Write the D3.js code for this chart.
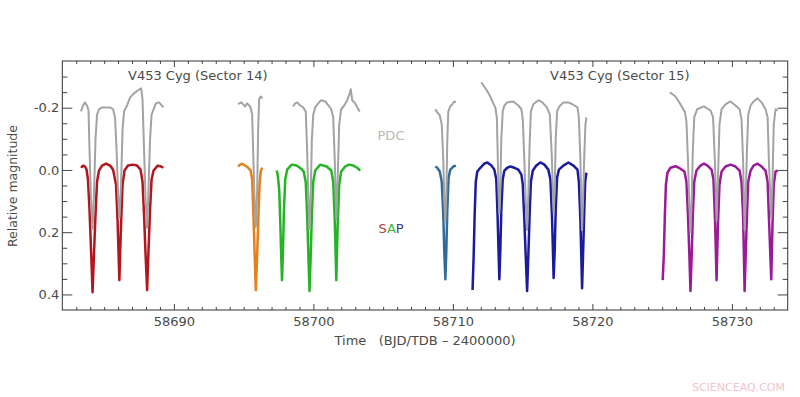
<!DOCTYPE html>
<html>
<head>
<meta charset="utf-8">
<script src="https://cdn.jsdelivr.net/npm/d3@7"></script>
<style>
  html, body { margin: 0; padding: 0; background: #fff; }
  svg { display: block; }
  text { font-family: "DejaVu Sans", sans-serif; }
</style>
</head>
<body>
<div id="chart"></div>
<script>
// Size of the figure
const width = 800;
const height = 397;

// Axis tick values
const xMajorTicks = [58690, 58700, 58710, 58720, 58730];
const yMajorTicks = [-0.2, 0.0, 0.2, 0.4];

// SAP light curves, [time, relative magnitude], one array per segment
const sapRed = [[58683.34,-0.007],[58683.49,-0.014],[58683.63,-0.011],[58683.74,-0.001],[58683.84,0.031],[58683.95,0.128],[58684.06,0.257],[58684.17,0.393],[58684.27,0.273],[58684.38,0.144],[58684.49,0.038],[58684.63,0.002],[58684.85,-0.014],[58685.14,-0.020],[58685.42,-0.014],[58685.64,-0.001],[58685.85,0.047],[58685.96,0.160],[58686.09,0.354],[58686.21,0.176],[58686.32,0.047],[58686.46,0.002],[58686.71,-0.014],[58687.05,-0.017],[58687.36,-0.014],[58687.61,-0.001],[58687.75,0.038],[58687.86,0.144],[58687.97,0.273],[58688.08,0.386],[58688.18,0.257],[58688.29,0.128],[58688.40,0.031],[58688.54,0.002],[58688.84,-0.014],[58689.08,-0.011],[58689.25,-0.007]];
const sapOrange = [[58694.60,-0.011],[58694.75,-0.017],[58694.89,-0.020],[58695.11,-0.014],[58695.32,-0.007],[58695.50,0.002],[58695.61,0.031],[58695.70,0.144],[58695.79,0.273],[58695.87,0.386],[58695.97,0.273],[58696.06,0.144],[58696.15,0.038],[58696.23,0.002],[58696.35,-0.007]];
const sapGreen = [[58697.37,0.002],[58697.44,0.015],[58697.55,0.064],[58697.62,0.160],[58697.69,0.273],[58697.75,0.354],[58697.82,0.257],[58697.89,0.128],[58697.98,0.031],[58698.12,-0.001],[58698.44,-0.017],[58698.80,-0.014],[58699.12,-0.004],[58699.30,0.005],[58699.45,0.038],[58699.55,0.144],[58699.64,0.273],[58699.72,0.389],[58699.81,0.273],[58699.89,0.144],[58699.99,0.038],[58700.13,0.002],[58700.49,-0.017],[58700.95,-0.011],[58701.28,0.002],[58701.42,0.038],[58701.53,0.160],[58701.64,0.354],[58701.74,0.176],[58701.85,0.047],[58701.99,0.005],[58702.28,-0.011],[58702.53,-0.017],[58702.86,-0.014],[58703.14,-0.007],[58703.36,0.002]];
const sapTeal = [[58708.74,-0.011],[58708.88,-0.007],[58709.06,0.005],[58709.20,0.038],[58709.31,0.144],[58709.38,0.257],[58709.46,0.351],[58709.53,0.257],[58709.60,0.128],[58709.69,0.025],[58709.81,-0.001],[58710.03,-0.011],[58710.22,-0.014]];
const sapBlue = [[58711.41,0.386],[58711.49,0.273],[58711.56,0.144],[58711.64,0.038],[58711.75,0.005],[58711.97,-0.007],[58712.25,-0.020],[58712.47,-0.024],[58712.76,-0.014],[58712.97,-0.001],[58713.11,0.031],[58713.20,0.144],[58713.27,0.257],[58713.33,0.351],[58713.40,0.257],[58713.47,0.128],[58713.57,0.031],[58713.69,0.002],[58713.90,-0.007],[58714.12,-0.011],[58714.41,-0.007],[58714.69,-0.001],[58714.91,0.015],[58715.01,0.047],[58715.12,0.160],[58715.23,0.289],[58715.32,0.389],[58715.41,0.273],[58715.50,0.144],[58715.59,0.038],[58715.73,0.002],[58715.98,-0.014],[58716.27,-0.024],[58716.56,-0.017],[58716.84,-0.001],[58716.99,0.031],[58717.10,0.144],[58717.17,0.257],[58717.22,0.347],[58717.30,0.257],[58717.37,0.128],[58717.47,0.025],[58717.60,-0.001],[58717.92,-0.014],[58718.28,-0.024],[58718.64,-0.014],[58718.93,-0.001],[58719.03,0.038],[58719.14,0.160],[58719.21,0.289],[58719.26,0.380],[58719.33,0.273],[58719.41,0.144],[58719.48,0.038],[58719.57,0.009]];
const sapPurple = [[58725.04,0.354],[58725.12,0.273],[58725.19,0.151],[58725.27,0.047],[58725.38,0.009],[58725.60,-0.007],[58725.96,-0.012],[58726.31,-0.004],[58726.60,0.005],[58726.74,0.038],[58726.85,0.144],[58726.95,0.273],[58727.03,0.389],[58727.12,0.273],[58727.20,0.144],[58727.30,0.038],[58727.46,0.002],[58727.75,-0.014],[58727.99,-0.020],[58728.25,-0.014],[58728.54,-0.001],[58728.68,0.031],[58728.79,0.160],[58728.90,0.354],[58729.00,0.176],[58729.11,0.047],[58729.26,0.005],[58729.54,-0.011],[58729.90,-0.017],[58730.26,-0.011],[58730.55,0.002],[58730.69,0.038],[58730.80,0.144],[58730.86,0.273],[58730.91,0.389],[58730.99,0.273],[58731.08,0.144],[58731.17,0.038],[58731.34,0.002],[58731.55,-0.014],[58731.84,-0.020],[58732.13,-0.011],[58732.41,0.002],[58732.56,0.038],[58732.66,0.160],[58732.82,0.351],[58732.91,0.176],[58733.00,0.047],[58733.13,0.005],[58733.29,0.002]];

// PDC light curves (offset above the SAP ones), [time, relative magnitude]
const pdcRed = [[58683.34,-0.188],[58683.49,-0.207],[58683.63,-0.217],[58683.77,-0.207],[58683.88,-0.191],[58683.95,-0.065],[58684.06,0.096],[58684.17,0.189],[58684.27,0.080],[58684.38,-0.098],[58684.49,-0.178],[58684.63,-0.195],[58684.85,-0.201],[58685.14,-0.201],[58685.42,-0.201],[58685.64,-0.195],[58685.78,-0.169],[58685.89,-0.065],[58686.00,0.080],[58686.09,0.154],[58686.21,0.047],[58686.32,-0.130],[58686.43,-0.188],[58686.64,-0.207],[58686.86,-0.233],[58687.14,-0.246],[58687.43,-0.256],[58687.65,-0.262],[58687.75,-0.227],[58687.86,-0.065],[58687.97,0.096],[58688.08,0.186],[58688.18,0.064],[58688.29,-0.098],[58688.40,-0.178],[58688.54,-0.195],[58688.72,-0.214],[58688.94,-0.217],[58689.25,-0.201]];
const pdcOrange = [[58694.60,-0.211],[58694.82,-0.217],[58695.11,-0.204],[58695.25,-0.214],[58695.47,-0.204],[58695.61,-0.178],[58695.70,-0.033],[58695.79,0.112],[58695.87,0.183],[58695.97,0.064],[58696.04,-0.130],[58696.11,-0.227],[58696.22,-0.236],[58696.35,-0.230]];
const pdcGreen = [[58698.55,-0.204],[58698.69,-0.214],[58698.84,-0.217],[58699.05,-0.207],[58699.27,-0.201],[58699.45,-0.188],[58699.55,-0.065],[58699.64,0.096],[58699.72,0.190],[58699.81,0.080],[58699.89,-0.098],[58699.99,-0.178],[58700.13,-0.201],[58700.34,-0.214],[58700.56,-0.224],[58700.85,-0.220],[58701.13,-0.204],[58701.28,-0.195],[58701.42,-0.169],[58701.53,-0.033],[58701.64,0.158],[58701.74,0.031],[58701.85,-0.146],[58701.99,-0.195],[58702.21,-0.207],[58702.42,-0.224],[58702.60,-0.246],[58702.68,-0.259],[58702.78,-0.224],[58703.00,-0.214],[58703.14,-0.201],[58703.32,-0.188]];
const pdcTeal = [[58708.74,-0.195],[58708.88,-0.185],[58709.06,-0.175],[58709.20,-0.146],[58709.31,-0.033],[58709.38,0.096],[58709.46,0.167],[58709.53,0.080],[58709.60,-0.098],[58709.67,-0.188],[58709.81,-0.204],[58709.96,-0.211],[58710.10,-0.220],[58710.22,-0.217]];
const pdcBlue = [[58712.04,-0.282],[58712.22,-0.269],[58712.43,-0.256],[58712.68,-0.236],[58712.86,-0.217],[58713.04,-0.201],[58713.15,-0.169],[58713.22,-0.033],[58713.28,0.080],[58713.33,0.141],[58713.40,0.064],[58713.47,-0.098],[58713.57,-0.188],[58713.69,-0.207],[58713.90,-0.217],[58714.33,-0.220],[58714.69,-0.207],[58714.91,-0.195],[58715.01,-0.162],[58715.12,-0.033],[58715.23,0.112],[58715.32,0.193],[58715.41,0.080],[58715.50,-0.082],[58715.59,-0.188],[58715.77,-0.211],[58716.13,-0.224],[58716.41,-0.217],[58716.74,-0.201],[58716.95,-0.178],[58717.10,-0.033],[58717.17,0.080],[58717.22,0.138],[58717.30,0.064],[58717.37,-0.098],[58717.47,-0.188],[58717.63,-0.204],[58717.92,-0.217],[58718.28,-0.217],[58718.57,-0.211],[58718.93,-0.201],[58719.03,-0.169],[58719.14,-0.033],[58719.21,0.112],[58719.26,0.193],[58719.33,0.096],[58719.41,-0.033],[58719.50,-0.146],[58719.57,-0.169]];
const pdcPurple = [[58725.55,-0.249],[58725.74,-0.243],[58725.96,-0.236],[58726.19,-0.220],[58726.44,-0.201],[58726.64,-0.185],[58726.74,-0.156],[58726.85,-0.033],[58726.95,0.112],[58727.03,0.199],[58727.12,0.096],[58727.20,-0.065],[58727.30,-0.169],[58727.51,-0.195],[58727.99,-0.204],[58728.47,-0.191],[58728.65,-0.169],[58728.79,-0.017],[58728.90,0.164],[58729.00,0.031],[58729.11,-0.146],[58729.26,-0.195],[58729.54,-0.211],[58729.90,-0.220],[58730.26,-0.207],[58730.55,-0.195],[58730.69,-0.162],[58730.80,-0.033],[58730.86,0.096],[58730.91,0.193],[58730.99,0.096],[58731.08,-0.065],[58731.17,-0.178],[58731.34,-0.207],[58731.55,-0.220],[58731.84,-0.230],[58732.13,-0.217],[58732.41,-0.195],[58732.56,-0.169],[58732.66,-0.017],[58732.82,0.154],[58732.91,0.031],[58733.00,-0.146],[58733.13,-0.195],[58733.29,-0.191]];

function main() {
    const margin = {left: 62.3, right: 12.3, top: 61, bottom: 87};

    const x = d3.scaleLinear()
        .domain([58682, 58734])
        .range([margin.left, width - margin.right]);
    const y = d3.scaleLinear()
        .domain([-0.35, 0.45])
        .range([margin.top, height - margin.bottom]);

    const svg = d3.create("svg")
        .attr("width", width)
        .attr("height", height)
        .style("background", "#fff");

    // minor ticks: every day on x, every 0.05 on y
    const xMinorTicks = d3.range(58683, 58734).filter(d => d % 10 !== 0);
    const yMinorTicks = d3.range(-6, 9).filter(i => i % 4 !== 0).map(i => i * 0.05);

    const textColor = "#4a4a4a";
    const styleAxis = g => {
        g.select(".domain").remove();
        g.selectAll("line").attr("stroke", "#444");
        g.selectAll("text")
            .attr("fill", textColor)
            .attr("font-family", "DejaVu Sans, sans-serif")
            .attr("font-size", 13);
    };

    const plotBottom = height - margin.bottom;
    const plotRight = width - margin.right;

    // Bottom axis with labels
    svg.append("g")
        .attr("transform", `translate(0,${plotBottom})`)
        .call(d3.axisBottom(x).tickValues(xMajorTicks).tickFormat(d3.format("d"))
            .tickSizeInner(-6).tickSizeOuter(0).tickPadding(7))
        .call(styleAxis);
    svg.append("g")
        .attr("transform", `translate(0,${plotBottom})`)
        .call(d3.axisBottom(x).tickValues(xMinorTicks).tickFormat("")
            .tickSizeInner(-3).tickSizeOuter(0))
        .call(styleAxis);

    // Top axis, ticks only
    svg.append("g")
        .attr("transform", `translate(0,${margin.top})`)
        .call(d3.axisTop(x).tickValues(xMajorTicks).tickFormat("")
            .tickSizeInner(-6).tickSizeOuter(0))
        .call(styleAxis);
    svg.append("g")
        .attr("transform", `translate(0,${margin.top})`)
        .call(d3.axisTop(x).tickValues(xMinorTicks).tickFormat("")
            .tickSizeInner(-3).tickSizeOuter(0))
        .call(styleAxis);

    // Left axis with labels
    svg.append("g")
        .attr("transform", `translate(${margin.left},0)`)
        .call(d3.axisLeft(y).tickValues(yMajorTicks).tickFormat(d => d.toFixed(1))
            .tickSizeInner(-10).tickSizeOuter(0).tickPadding(3))
        .call(styleAxis);
    svg.append("g")
        .attr("transform", `translate(${margin.left},0)`)
        .call(d3.axisLeft(y).tickValues(yMinorTicks).tickFormat("")
            .tickSizeInner(-5).tickSizeOuter(0))
        .call(styleAxis);

    // Right axis, ticks only
    svg.append("g")
        .attr("transform", `translate(${plotRight},0)`)
        .call(d3.axisRight(y).tickValues(yMajorTicks).tickFormat("")
            .tickSizeInner(-10).tickSizeOuter(0))
        .call(styleAxis);
    svg.append("g")
        .attr("transform", `translate(${plotRight},0)`)
        .call(d3.axisRight(y).tickValues(yMinorTicks).tickFormat("")
            .tickSizeInner(-5).tickSizeOuter(0))
        .call(styleAxis);

    // Frame
    svg.append("rect")
        .attr("x", margin.left)
        .attr("y", margin.top)
        .attr("width", plotRight - margin.left)
        .attr("height", plotBottom - margin.top)
        .attr("fill", "none")
        .attr("stroke", "#333")
        .attr("stroke-width", 1);

    const line = d3.line()
        .x(d => x(d[0]))
        .y(d => y(d[1]));

    // SAP segments first, PDC drawn on top
    const sapSegments = [
        {data: sapRed, color: "#b3161c"},
        {data: sapOrange, color: "#e5801f"},
        {data: sapGreen, color: "#25b425"},
        {data: sapTeal, color: "#2f6c9c"},
        {data: sapBlue, color: "#1b1b9e"},
        {data: sapPurple, color: "#9a1b98"}
    ];
    const pdcSegments = [pdcRed, pdcOrange, pdcGreen, pdcTeal, pdcBlue, pdcPurple];

    svg.append("g")
        .selectAll("path")
        .data(sapSegments)
        .join("path")
        .attr("d", d => line(d.data))
        .attr("fill", "none")
        .attr("stroke", d => d.color)
        .attr("stroke-width", 2.5)
        .attr("stroke-linejoin", "round");

    svg.append("g")
        .selectAll("path")
        .data(pdcSegments)
        .join("path")
        .attr("d", d => line(d))
        .attr("fill", "none")
        .attr("stroke", "#a3a3a3")
        .attr("stroke-width", 2)
        .attr("stroke-linejoin", "round");

    // Titles inside the plot
    const label = (tx, ty, str, color, anchor) => svg.append("text")
        .attr("x", tx)
        .attr("y", ty)
        .attr("fill", color)
        .attr("font-size", 13)
        .attr("text-anchor", anchor || "start")
        .text(str);

    label(128, 80, "V453 Cyg (Sector 14)", textColor);
    label(550, 80, "V453 Cyg (Sector 15)", textColor);
    label(391, 140, "PDC", "#b8b8b8", "middle");

    const sap = svg.append("text")
        .attr("x", 391)
        .attr("y", 233)
        .attr("font-size", 13)
        .attr("text-anchor", "middle");
    sap.append("tspan").attr("fill", "#b04040").text("S");
    sap.append("tspan").attr("fill", "#3cb43c").text("A");
    sap.append("tspan").attr("fill", "#3c3c8c").text("P");

    // Axis titles
    svg.append("text")
        .attr("transform", `translate(17,186) rotate(-90)`)
        .attr("text-anchor", "middle")
        .attr("fill", textColor)
        .attr("font-size", 12.5)
        .text("Relative magnitude");

    svg.append("text")
        .attr("x", 425)
        .attr("y", 345)
        .attr("text-anchor", "middle")
        .attr("fill", textColor)
        .attr("font-size", 13)
        .style("white-space", "pre")
        .text("Time   (BJD/TDB \u2013 2400000)");

    // Watermark
    svg.append("text")
        .attr("x", 785)
        .attr("y", 391)
        .attr("text-anchor", "end")
        .attr("fill", "#f2c4cc")
        .attr("font-size", 11)
        .text("SCIENCEAQ.COM");

    d3.select("#chart").append(() => svg.node());
}

main();
</script>
</body>
</html>
